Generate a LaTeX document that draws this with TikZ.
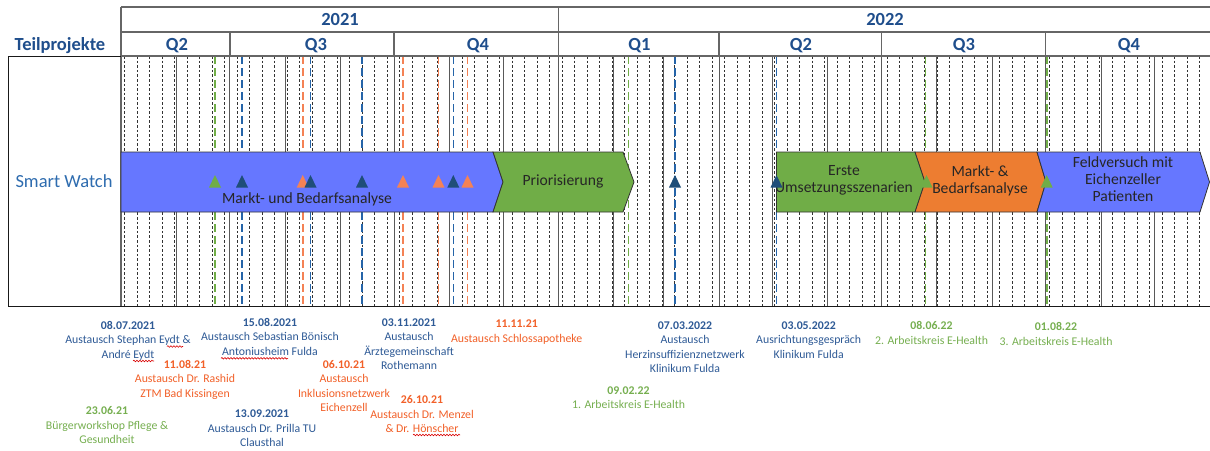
\documentclass[tikz,border=0pt]{standalone}
\usepackage{fontspec}
\setmainfont{Carlito}
\usetikzlibrary{decorations.pathmorphing}

\definecolor{hdrblue}{RGB}{31,78,140}
\definecolor{rowblue}{RGB}{46,108,175}
\definecolor{barblue}{RGB}{102,119,255}
\definecolor{bargreen}{RGB}{112,173,71}
\definecolor{barorange}{RGB}{237,125,49}
\definecolor{evgreen}{RGB}{112,173,71}
\definecolor{evblue}{RGB}{37,100,168}
\definecolor{evnavy}{RGB}{31,78,121}
\definecolor{evorange}{RGB}{244,130,85}
\definecolor{txblue}{RGB}{46,90,150}
\definecolor{txorange}{RGB}{242,96,40}
\definecolor{txgreen}{RGB}{118,175,80}

\begin{document}
\begin{tikzpicture}[x=1pt,y=-1pt,
  frame/.style={draw=black!60, line width=1.3pt},
  border/.style={draw=black!90, line width=0.9pt},
  monthline/.style={draw=black!65, line width=1pt},
  weekline/.style={draw=black!80, line width=0.55pt, dash pattern=on 2.6pt off 2pt},
  evline/.style={line width=1.6pt, dash pattern=on 8pt off 4pt},
  hdr/.style={font=\fontsize{18.5}{22}\selectfont\bfseries, text=hdrblue, anchor=base, inner sep=0pt},
  chev/.style={draw=black!80, line width=0.8pt, line join=miter},
  chevtext/.style={font=\fontsize{15.6}{17}\selectfont, text=black!85, align=center, inner sep=0pt},
  lbl/.style={font=\fontsize{11.8}{14.5}\selectfont, align=center, anchor=north, inner sep=0pt, execute at begin node=\strut},
  spell/.style={draw=red!85!black, line width=0.6pt, decorate, decoration={snake, amplitude=0.8pt, segment length=3pt}}
]
\useasboundingbox (0,0) rectangle (1210,450);
\fill[white] (0,0) rectangle (1210,450);

% weekly grid (Mondays), one day = 1089/610 pt from 1 May 2021
\foreach \k in {0,...,86} {
  \pgfmathsetmacro\wx{121+(2+7*\k)*1.7852459}
  \draw[weekline] (\wx,56) -- (\wx,306);
}
% month boundaries
\foreach \d in {31,61,92,123,153,184,214,245,276,304,335,365,396,426,457,488,518,549,579} {
  \pgfmathsetmacro\mx{121+\d*1.7852459}
  \draw[monthline] (\mx,56) -- (\mx,306);
}

% milestone lines
\foreach \x/\c in {215/evgreen, 242/evblue, 302.7/evorange, 310.5/evblue, 362/evblue,
                   403/evorange, 438.5/evorange, 453.3/evblue, 467.5/evorange,
                   628.5/evgreen, 675/evblue, 776.5/evblue, 925.5/evgreen, 1046.7/evgreen} {
  \draw[evline, \c] (\x,56) -- (\x,306);
}

% header and table frame
\draw[frame] (121,7) -- (1210,7);
\draw[frame] (121,32) -- (1210,32);
\draw[frame] (121,56) -- (1210,56);
\draw[frame] (121,7) -- (121,306);
\draw[frame] (558.4,7) -- (558.4,32);
\foreach \d in {61,153,245,335,426,518} {
  \pgfmathsetmacro\qx{121+\d*1.7852459}
  \draw[frame] (\qx,32) -- (\qx,56);
}
\draw[border] (8,56) -- (121,56);
\draw[border] (8,56) -- (8,306) -- (1210,306);

\node[hdr] (y2021) at (340,25.5) {2021};
\node[hdr] (y2022) at (885,25.5) {2022};
\node[hdr] (tp) at (60,50) {Teilprojekte};
\node[hdr] (q2a) at (177,50) {Q2};
\node[hdr] (q3a) at (316,50) {Q3};
\node[hdr] (q4a) at (478,50) {Q4};
\node[hdr] (q1b) at (639.5,50) {Q1};
\node[hdr] (q2b) at (801,50) {Q2};
\node[hdr] (q3b) at (964,50) {Q3};
\node[hdr] (q4b) at (1129,50) {Q4};
\node[font=\fontsize{18.5}{22}\selectfont, text=rowblue, anchor=base, inner sep=0pt] (row) at (64,187.7) {Smart Watch};

% phase chevrons
\filldraw[chev, fill=barblue] (121,152) -- (493,152) -- (503,182) -- (493,212) -- (121,212) -- cycle;
\filldraw[chev, fill=bargreen] (493,152) -- (623,152) -- (634,182) -- (623,212) -- (493,212) -- (503,182) -- cycle;
\filldraw[chev, fill=bargreen] (776.5,152) -- (915,152) -- (925,182) -- (915,212) -- (776.5,212) -- cycle;
\filldraw[chev, fill=barorange] (915,152) -- (1037,152) -- (1046,182) -- (1037,212) -- (915,212) -- (925,182) -- cycle;
\filldraw[chev, fill=barblue] (1037,152) -- (1200,152) -- (1209.5,182) -- (1200,212) -- (1037,212) -- (1046,182) -- cycle;

\node[chevtext, anchor=base] (p1) at (307,203) {Markt- und Bedarfsanalyse};
\node[chevtext, anchor=base] (p2) at (563,185) {Priorisierung};
\node[chevtext, anchor=north, execute at begin node=\strut] (p3) at (844,165.4) {Erste\\Umsetzungsszenarien};
\node[chevtext, anchor=north, execute at begin node=\strut] (p4) at (980,165.4) {Markt- \&\\Bedarfsanalyse};
\node[chevtext, anchor=north, execute at begin node=\strut] (p5) at (1123,156.4) {Feldversuch mit\\Eichenzeller\\Patienten};

% milestone markers
\foreach \x/\c in {215/evgreen, 242/evnavy, 302.7/evorange, 310.5/evnavy, 362/evnavy,
                   403/evorange, 438.5/evorange, 453.3/evnavy, 467.5/evorange,
                   675/evnavy, 776.5/evnavy, 926.5/evgreen, 1046.7/evgreen} {
  \fill[\c] (\x,175) -- (\x+6,187.5) -- (\x-6,187.5) -- cycle;
}

% milestone labels
\node[lbl, text=txgreen] (m1) at (107,406.4) {\textbf{23.06.21}\\Bürgerworkshop Pflege \&\\Gesundheit};
\node[lbl, text=txblue] (m2) at (128,320.7) {\textbf{08.07.2021}\\Austausch Stephan Eydt \&\\André Eydt};
\node[lbl, text=txorange] (m3) at (185,360) {\textbf{11.08.21}\\Austausch Dr. Rashid\\ZTM Bad Kissingen};
\node[lbl, text=txblue] (m4) at (270,318) {\textbf{15.08.2021}\\Austausch Sebastian Bönisch\\Antoniusheim Fulda};
\node[lbl, text=txblue] (m5) at (262,409.7) {\textbf{13.09.2021}\\Austausch Dr. Prilla TU\\Clausthal};
\node[lbl, text=txorange] (m6) at (344,360) {\textbf{06.10.21}\\Austausch\\Inklusionsnetzwerk\\Eichenzell};
\node[lbl, text=txorange] (m7) at (422,395.7) {\textbf{26.10.21}\\Austausch Dr. Menzel\\\& Dr. Hönscher};
\node[lbl, text=txblue] (m8) at (409,318.4) {\textbf{03.11.2021}\\Austausch\\Ärztegemeinschaft\\Rothemann};
\node[lbl, text=txorange] (m9) at (516.7,320) {\textbf{11.11.21}\\Austausch Schlossapotheke};
\node[lbl, text=txgreen] (m10) at (628.5,386.4) {\textbf{09.02.22}\\1. Arbeitskreis E-Health};
\node[lbl, text=txblue] (m11) at (685,321.4) {\textbf{07.03.2022}\\Austausch\\Herzinsuffizienznetzwerk\\Klinikum Fulda};
\node[lbl, text=txblue] (m12) at (808.7,321.4) {\textbf{03.05.2022}\\Ausrichtungsgespräch\\Klinikum Fulda};
\node[lbl, text=txgreen] (m13) at (931.5,321.4) {\textbf{08.06.22}\\2. Arbeitskreis E-Health};
\node[lbl, text=txgreen] (m14) at (1056,322.4) {\textbf{01.08.22}\\3. Arbeitskreis E-Health};

% wavy spelling underlines
\draw[spell] (167,346.5) -- (183,346.5);
\draw[spell] (133,361) -- (154,361);
\draw[spell] (221,358.3) -- (288,358.3);
\draw[spell] (413,435) -- (460,435);
\end{tikzpicture}
\end{document}
